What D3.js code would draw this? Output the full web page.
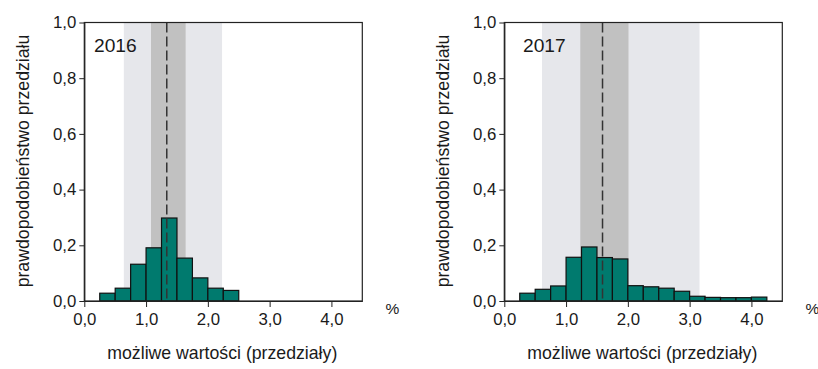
<!DOCTYPE html>
<html>
<head>
<meta charset="utf-8">
<script src="https://cdn.jsdelivr.net/npm/d3@7"></script>
<style>
  body { margin: 0; background: #fff; }
  svg text { font-family: "Liberation Sans", Arial, sans-serif; fill: #1a1a1a; }
</style>
</head>
<body>
<svg id="chart" width="818" height="369"></svg>
<script>
// histogram bins (left edges), width 0.25
var binWidth = 0.25;
var bins2016 = [0.25, 0.5, 0.75, 1.0, 1.25, 1.5, 1.75, 2.0, 2.25];
var prob2016 = [0.028, 0.046, 0.132, 0.191, 0.298, 0.154, 0.083, 0.046, 0.038];
var bins2017 = [0.25, 0.5, 0.75, 1.0, 1.25, 1.5, 1.75, 2.0, 2.25, 2.5, 2.75, 3.0, 3.25, 3.5, 3.75, 4.0];
var prob2017 = [0.028, 0.042, 0.054, 0.157, 0.194, 0.156, 0.151, 0.055, 0.051, 0.046, 0.035, 0.017, 0.013, 0.012, 0.012, 0.014];

// shaded ranges and central value
var outer2016 = [0.64, 2.23], inner2016 = [1.08, 1.64], center2016 = 1.335;
var outer2017 = [0.61, 3.16], inner2017 = [1.23, 2.01], center2017 = 1.59;

var xTicks = [0, 1, 2, 3, 4];
var yTicks = [0, 0.2, 0.4, 0.6, 0.8, 1.0];
var xTitle = "możliwe wartości (przedziały)";
var yTitle = "prawdopodobieństwo przedziału";

var fmt = function(d) { return d3.format(".1f")(d).replace(".", ","); };

var svg = d3.select("#chart");

function drawPanel(opt) {
	var x = d3.scaleLinear().domain([0, 4.5]).range([opt.left, opt.left + 278]);
	var y = d3.scaleLinear().domain([0, 1]).range([301, 22.5]);
	var g = svg.append("g");

	g.append("rect")
		.attr("x", x(opt.outer[0])).attr("y", y(1))
		.attr("width", x(opt.outer[1]) - x(opt.outer[0]))
		.attr("height", y(0) - y(1))
		.attr("fill", "#e6e7eb");
	g.append("rect")
		.attr("x", x(opt.inner[0])).attr("y", y(1))
		.attr("width", x(opt.inner[1]) - x(opt.inner[0]))
		.attr("height", y(0) - y(1))
		.attr("fill", "#c1c1c1");

	g.selectAll(".bar").data(opt.bins).enter().append("rect")
		.attr("class", "bar")
		.attr("x", function(d) { return x(d); })
		.attr("y", function(d, i) { return y(opt.probs[i]); })
		.attr("width", function(d) { return x(d + binWidth) - x(d); })
		.attr("height", function(d, i) { return y(0) - y(opt.probs[i]); })
		.attr("fill", "#007a6e")
		.attr("stroke", "#111")
		.attr("stroke-width", 1.2);

	g.append("line")
		.attr("x1", x(opt.center)).attr("x2", x(opt.center))
		.attr("y1", y(1)).attr("y2", y(0))
		.attr("stroke", "#333")
		.attr("stroke-width", 1.5)
		.attr("stroke-dasharray", "10,4");

	// frame
	g.append("rect")
		.attr("x", x(0)).attr("y", y(1))
		.attr("width", x(4.5) - x(0)).attr("height", y(0) - y(1))
		.attr("fill", "none").attr("stroke", "#222").attr("stroke-width", 1.2);

	var xAxis = g.append("g")
		.attr("transform", "translate(0," + y(0) + ")")
		.call(d3.axisBottom(x).tickValues(xTicks).tickFormat(fmt).tickSize(6).tickPadding(6).tickSizeOuter(0));
	var yAxis = g.append("g")
		.attr("transform", "translate(" + x(0) + ",0)")
		.call(d3.axisLeft(y).tickValues(yTicks).tickFormat(fmt).tickSize(5).tickPadding(3).tickSizeOuter(0));
	[xAxis, yAxis].forEach(function(a) {
		a.select(".domain").attr("stroke", "#222").attr("stroke-width", 1.2);
		a.selectAll(".tick line").attr("stroke", "#222");
		a.selectAll(".tick text").attr("font-size", 16.8).attr("fill", "#1a1a1a")
			.attr("font-family", "Liberation Sans, Arial, sans-serif");
	});

	g.append("text")
		.attr("x", opt.yearX).attr("y", 51.5)
		.attr("font-size", 19.2)
		.text(opt.year);

	g.append("text")
		.attr("x", x(0) + 308).attr("y", 314)
		.attr("text-anchor", "middle")
		.attr("font-size", 15.5)
		.text("%");

	g.append("text")
		.attr("x", x(0) + 138).attr("y", 359)
		.attr("text-anchor", "middle")
		.attr("font-size", 17.7)
		.text(xTitle);

	g.append("text")
		.attr("transform", "translate(" + (x(0) - 55.5) + ",161) rotate(-90)")
		.attr("text-anchor", "middle")
		.attr("font-size", 17.7)
		.text(yTitle);
}

drawPanel({ left: 84.3, bins: bins2016, probs: prob2016, outer: outer2016, inner: inner2016,
	center: center2016, year: "2016", yearX: 94 });
drawPanel({ left: 504.3, bins: bins2017, probs: prob2017, outer: outer2017, inner: inner2017,
	center: center2017, year: "2017", yearX: 523 });
</script>
</body>
</html>
